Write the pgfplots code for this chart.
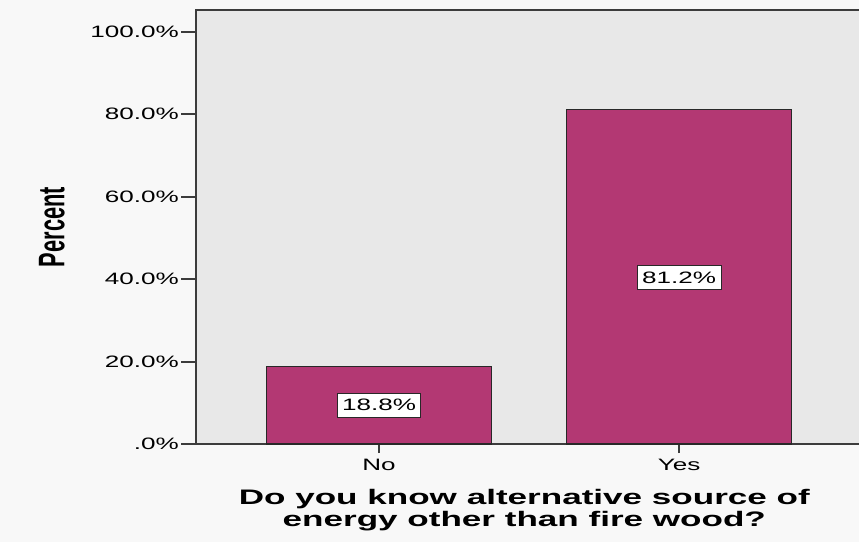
\documentclass[border=0pt]{standalone}
\usepackage{graphicx}
\usepackage{pgfplots}
\pgfplotsset{compat=1.18}
\usepackage{fontspec}
\setmainfont{Liberation Sans}
\definecolor{barc}{RGB}{179,56,115}
\definecolor{plotbg}{RGB}{232,232,232}
\definecolor{outbg}{RGB}{248,248,248}
\definecolor{axc}{RGB}{60,60,60}
\definecolor{edgec}{RGB}{40,40,40}
% the reference is stretched sideways, so its text is wide
\newcommand\wt[1]{\scalebox{1.58}[1]{#1}}
\newcommand\wtt[1]{\scalebox{1.67}[1]{#1}}

\begin{document}
\begin{tikzpicture}
\fill[outbg] (0,0) rectangle (859pt,542pt);
\useasboundingbox (0,0) rectangle (859pt,542pt);
\begin{axis}[
  at={(196pt,98pt)}, anchor=south west,
  scale only axis,
  width=670pt, height=434pt,
  xmin=-0.61, xmax=1.623,
  ymin=0, ymax=105.3,
  axis background/.style={fill=plotbg},
  axis line style={axc, line width=2pt},
  xtick={0,1}, xticklabels={\wt{No},\wt{Yes}},
  ytick={0,20,40,60,80,100},
  yticklabels={\wt{.0\%},\wt{20.0\%},\wt{40.0\%},\wt{60.0\%},\wt{80.0\%},\wt{100.0\%}},
  xtick pos=bottom, ytick pos=left,
  tick align=outside,
  major tick length=15pt,
  xtick style={axc, line width=2pt, /pgfplots/major tick length=9pt},
  ytick style={axc, line width=2pt},
  ticklabel style={font=\fontsize{16.5}{16.5}\selectfont, text=black},
  yticklabel style={inner sep=2pt},
  xticklabel style={inner sep=2pt, yshift=2pt},
  xlabel={\wtt{Do you know alternative source of}\\\wtt{energy other than fire wood?}},
  xlabel style={font=\fontsize{21}{22}\selectfont\bfseries, align=center,
    at={(axis description cs:0.49,0)}, anchor=north, yshift=-42pt},
  ylabel={\scalebox{0.59}[1]{\fontsize{37}{37}\selectfont\bfseries Percent}},
  ylabel style={at={(axis description cs:-0.215,0.5)}, anchor=center, rotate=0},
]
\addplot[ybar, bar width=225pt, fill=barc, draw=edgec, line width=1.5pt]
  coordinates {(0,18.8) (1,81.2)};
\addplot[draw=none, mark=none, point meta=explicit symbolic,
  nodes near coords={\wt{\pgfplotspointmeta\%}},
  every node near coord/.style={anchor=center, fill=white, draw=edgec,
    line width=1pt, inner xsep=5pt, inner ysep=6pt,
    font=\fontsize{16.5}{16.5}\selectfont, text=black}]
  coordinates {(0,9.4) [18.8] (1,40.4) [81.2]};
\end{axis}
\end{tikzpicture}
\end{document}
